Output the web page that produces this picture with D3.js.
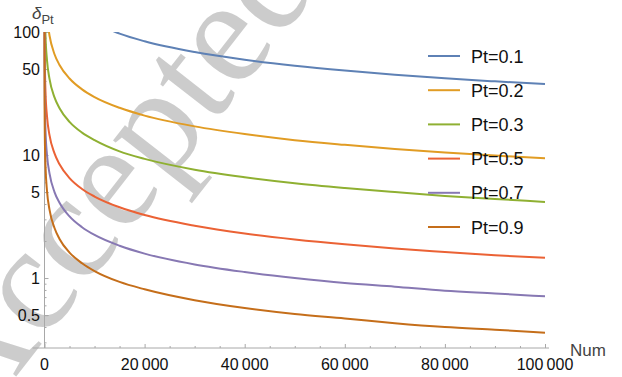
<!DOCTYPE html>
<html>
<head>
<meta charset="utf-8">
<script src="https://cdn.jsdelivr.net/npm/d3@7"></script>
<style>
  body { margin: 0; background: #fff; }
  svg { display: block; font-family: "Liberation Sans", Arial, sans-serif; }
</style>
</head>
<body>
<svg id="chart" width="622" height="377"></svg>
<script>
// sample positions along Num (shared by every series)
var numGrid = [1, 5, 20, 50, 100, 200, 500, 1000, 2000, 3000, 5000, 7500, 10000,
  15000, 20000, 30000, 40000, 50000, 60000, 70000, 80000, 90000, 100000];

// delta_Pt (null = above the plot, not drawn)
var pt01 = [null, null, null, null, null, null, null, null, null, null, null, null, 119,
  97, 84, 68.7, 59.5, 53.2, 48.6, 45, 42, 39.7, 37.7];
var pt02 = [null, null, null, null, null, null, 132, 93.6, 66, 54, 41.9, 34.2, 29.6,
  24.2, 20.9, 17.1, 14.8, 13.2, 12.1, 11.2, 10.5, 9.9, 9.4];
var pt03 = [null, null, null, null, 131, 93, 58.8, 41.6, 29.4, 24, 18.6, 15.2, 13.2,
  10.7, 9.3, 7.6, 6.6, 5.9, 5.4, 5.0, 4.65, 4.4, 4.16];
var pt05 = [null, null, 103, 65, 46, 32.5, 20.6, 14.5, 10.3, 8.4, 6.5, 5.3, 4.6,
  3.76, 3.25, 2.66, 2.3, 2.06, 1.88, 1.74, 1.63, 1.53, 1.46];
var pt07 = [224, 100, 50, 31.7, 22.4, 15.8, 10, 7.1, 5.0, 4.1, 3.17, 2.59, 2.24,
  1.83, 1.58, 1.29, 1.12, 1.0, 0.91, 0.85, 0.79, 0.75, 0.71];
var pt09 = [114, 51, 25.5, 16.1, 11.4, 8.1, 5.1, 3.6, 2.55, 2.08, 1.61, 1.32, 1.14,
  0.93, 0.81, 0.66, 0.57, 0.51, 0.47, 0.43, 0.40, 0.38, 0.36];

var seriesNames = ['Pt=0.1', 'Pt=0.2', 'Pt=0.3', 'Pt=0.5', 'Pt=0.7', 'Pt=0.9'];
var seriesValues = [pt01, pt02, pt03, pt05, pt07, pt09];
var seriesColors = ['#5E81B5', '#E19C24', '#8FB032', '#EB6235', '#8778B3', '#C56E1A'];

var xTicks = [0, 20000, 40000, 60000, 80000, 100000];
var yTicks = [0.5, 1, 5, 10, 50, 100];

var svg = d3.select('#chart');
var x = d3.scaleLinear().domain([0, 100000]).range([44.5, 545]);
var y = d3.scaleLog().domain([0.27, 100]).range([348, 32]);

// watermark
svg.append('text')
  .attr('transform', 'translate(150,205) rotate(-52)')
  .attr('text-anchor', 'middle')
  .attr('font-family', '"Liberation Serif", "Times New Roman", serif')
  .attr('font-size', 150)
  .attr('fill', '#c4c4c4')
  .attr('opacity', 0.85)
  .text('Accepted');

// axes
var axisColor = '#a8a8a8';
var xAxis = svg.append('g').attr('transform', 'translate(0,348)')
  .call(d3.axisBottom(x).tickValues(d3.range(0, 100001, 5000)).tickSize(0).tickFormat(''));
xAxis.select('.domain').attr('stroke', axisColor).attr('d', 'M' + (x(0) - 12) + ',0H' + (x(100000) + 4));
xAxis.selectAll('.tick line')
  .attr('stroke', axisColor)
  .attr('y2', function(d) { return d % 20000 === 0 ? -4 : -2; });

var yMinor = [];
[0.1, 1, 10].forEach(function(dec) {
  for (var k = 2; k <= 9; k++) {
    var v = +(dec * k).toPrecision(3);
    if (v >= 0.27 && v <= 100) yMinor.push(v);
  }
});
var yAxis = svg.append('g').attr('transform', 'translate(' + x(0) + ',0)')
  .call(d3.axisLeft(y).tickValues(yTicks.concat(yMinor)).tickSize(0).tickFormat(''));
yAxis.select('.domain').attr('stroke', axisColor).attr('d', 'M0,348V32');
yAxis.selectAll('.tick line')
  .attr('stroke', axisColor)
  .attr('x2', function(d) { return yTicks.indexOf(d) >= 0 ? 4 : 2; });

// tick labels
svg.append('g').selectAll('text').data(xTicks).join('text')
  .attr('x', function(d) { return x(d); })
  .attr('y', 370)
  .attr('text-anchor', 'middle')
  .attr('font-size', 16)
  .attr('fill', '#111')
  .text(function(d) { return d === 0 ? '0' : d3.format(',')(d).replace(/,/g, '\u2009'); });

svg.append('g').selectAll('text').data(yTicks).join('text')
  .attr('x', 40)
  .attr('y', function(d) { return y(d) + 6; })
  .attr('text-anchor', 'end')
  .attr('font-size', 16)
  .attr('fill', '#111')
  .text(function(d) { return d; });

// axis names
var yLab = svg.append('text').attr('x', 32).attr('y', 19).attr('fill', '#444').attr('font-size', 17);
yLab.append('tspan').attr('font-style', 'italic').text('\u03b4');
yLab.append('tspan').attr('dy', 5).attr('font-size', 13).text('Pt');
svg.append('text').attr('x', 570).attr('y', 356).attr('fill', '#444').attr('font-size', 17).text('Num');

// curves
svg.append('clipPath').attr('id', 'plotClip').append('rect')
  .attr('x', 30).attr('y', 32).attr('width', 560).attr('height', 320);

var line = d3.line()
  .defined(function(d) { return d[1] != null; })
  .x(function(d) { return x(d[0]); })
  .y(function(d) { return y(d[1]); })
  .curve(d3.curveMonotoneX);

svg.append('g').attr('clip-path', 'url(#plotClip)')
  .selectAll('path').data(seriesValues).join('path')
  .attr('fill', 'none')
  .attr('stroke', function(d, i) { return seriesColors[i]; })
  .attr('stroke-width', 2)
  .attr('d', function(vals) { return line(numGrid.map(function(n, j) { return [n, vals[j]]; })); });

// legend
var legend = svg.append('g').selectAll('g').data(seriesNames).join('g')
  .attr('transform', function(d, i) { return 'translate(428,' + (56 + i * 34.2) + ')'; });
legend.append('line').attr('x1', 0).attr('x2', 32)
  .attr('stroke', function(d, i) { return seriesColors[i]; })
  .attr('stroke-width', 2);
legend.append('text').attr('x', 43).attr('y', 6.5)
  .attr('font-size', 18)
  .attr('fill', '#111')
  .text(function(d) { return d; });
</script>
</body>
</html>
